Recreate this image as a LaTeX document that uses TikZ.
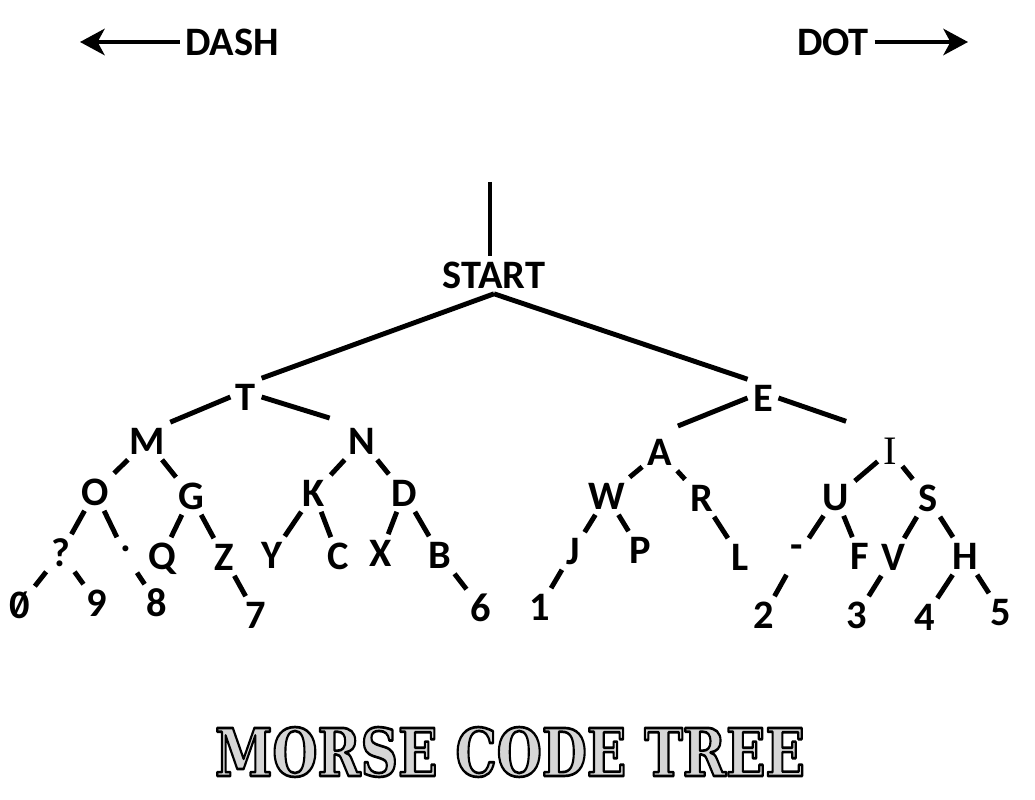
\documentclass[tikz,border=0pt]{standalone}
\usepackage{fontspec}
\usepackage{graphicx}
\setmainfont{Carlito}
\newfontfamily\serifletter{Liberation Serif}
\newfontfamily\titlefont{DejaVu Serif}
\usetikzlibrary{arrows.meta}

\newcommand\outlined[1]{\special{pdf:literal direct q 2 Tr 1.5 w 0 0 0 RG 0.84 0.84 0.84 rg}#1\special{pdf:literal direct Q}}
\newcommand\slashzero{\ooalign{0\cr\hidewidth\raisebox{0.08em}{\scalebox{0.8}{/}}\hidewidth\cr}}

\begin{document}
\begin{tikzpicture}[x=0.02cm,y=-0.02cm,line join=round,
    every node/.style={inner sep=3pt,text height=15pt,text depth=0pt,font=\fontsize{23}{23}\selectfont\bfseries},
    edge/.style={line width=2.8pt},
    arr/.style={line width=2.3pt,-{Stealth[length=14pt,width=15pt,inset=4pt]}}]
  \useasboundingbox (0,0) rectangle (1035,800);
  \fill[white] (0,0) rectangle (1035,800);

  % direction labels
  \node (Dash) at (232,42) {DASH};
  \node (Dot) at (833,42) {DOT};
  \coordinate (DashTip) at (80,42);
  \coordinate (DotTip) at (968,42);
  \draw[arr] (Dash) -- (DashTip);
  \draw[arr] (Dot) -- (DotTip);

  % root
  \coordinate (Top) at (490,182);
  \node (Start) at (494,275) {START};
  \node (T) at (246,397) {T};
  \node (E) at (763,398) {E};

  % dash side
  \node (M) at (147,441) {M};
  \node (N) at (362,441) {N};
  \node (O) at (95,492) {O};
  \node (G) at (191,496) {G};
  \node (K) at (314,493) {K};
  \node (D) at (404,493) {D};
  \node (Qmark) at (61,553) {?};
  \node (Stop) at (126,556) {\raisebox{0.44em}{.}};
  \node (Q) at (162,556) {Q};
  \node (Z) at (224,557) {Z};
  \node (Y) at (272,555) {Y};
  \node (C) at (338,556) {C};
  \node (X) at (381,553) {X};
  \node (B) at (440,555) {B};
  \node (num0) at (20,605) {\slashzero};
  \node (num9) at (97,603) {9};
  \node (num8) at (157,603) {8};
  \node (num7) at (256,615) {7};
  \node (num6) at (481,608) {6};

  % dot side
  \node (A) at (660,452) {A};
  \node (I) at (890,451) {\serifletter\mdseries I};
  \node (W) at (607,496) {W};
  \node (R) at (702,498) {R};
  \node (U) at (836,497) {U};
  \node (S) at (928,498) {S};
  \node (J) at (573,551) {J};
  \node (P) at (640,550) {P};
  \node (L) at (740,557) {L};
  \node (Hyph) at (797,556) {\raisebox{0.27em}{-}};
  \node (F) at (860,556) {F};
  \node (V) at (893,557) {V};
  \node (H) at (965,556) {H};
  \node (num1) at (540,607) {1};
  \node (num2) at (764,615) {2};
  \node (num3) at (857,615) {3};
  \node (num4) at (925,617) {4};
  \node (num5) at (1001,612) {5};

  % branches
  \draw[line width=2.2pt] (Top) -- (Top |- Start.north);
  \draw[edge] (Start.south) -- (T.north east) (Start.south) -- (E.north west);
  \draw[edge] (T.west) -- (M.north east);
  \draw[edge,shorten >=8pt] (T.east) -- (N.north west);
  \draw[edge,shorten >=11pt] (E.west) -- (A.north);
  \draw[edge,shorten >=19pt] (E.east) -- (I.north west);

  \draw[edge] (M)--(O) (M)--(G) (N)--(K) (N)--(D)
    (O)--(Qmark) (O)--(Stop) (G)--(Q) (G)--(Z) (K)--(Y) (K)--(C) (D)--(X) (D)--(B)
    (Qmark)--(num0) (Qmark)--(num9) (Stop)--(num8) (Z)--(num7) (B)--(num6);
  \draw[edge] (A)--(W) (A)--(R) (I)--(U) (I)--(S)
    (W)--(J) (W)--(P) (R)--(L) (U)--(Hyph) (U)--(F) (S)--(V) (S)--(H)
    (J)--(num1) (Hyph)--(num2) (V)--(num3) (H)--(num4) (H)--(num5);

  % title
  \node[inner sep=0pt,text height={},text depth={}] (Title) at (510,752)
    {\resizebox{11.8cm}{0.98cm}{\titlefont\bfseries\fontsize{37}{37}\selectfont\outlined{MORSE CODE TREE}}};
\end{tikzpicture}
\end{document}
